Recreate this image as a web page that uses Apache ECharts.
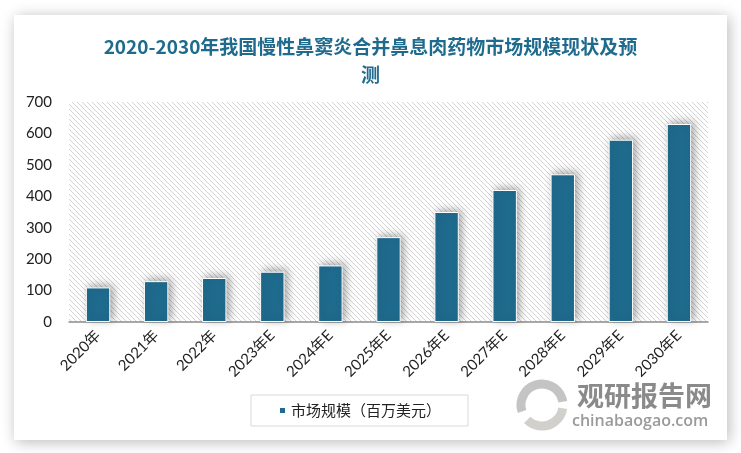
<!DOCTYPE html>
<html><head><meta charset="utf-8">
<script src="https://cdn.jsdelivr.net/npm/echarts@6/dist/echarts.min.js"></script>
<style>html,body{margin:0;padding:0;background:#fff;}#c{width:741px;height:453px;}</style>
</head><body><div id="c"></div>
<script>
const categories = ['2020年','2021年','2022年','2023年E','2024年E','2025年E','2026年E','2027年E','2028年E','2029年E','2030年E'];
const marketSize = [110, 130, 140, 160, 180, 270, 350, 420, 470, 580, 630];
const seriesName = '市场规模（百万美元）';
const titleText = '2020-2030年我国慢性鼻窦炎合并鼻息肉药物市场规模现状及预\n测';

const pc = document.createElement('canvas');
pc.width = 5; pc.height = 5;
const g = pc.getContext('2d');
g.fillStyle = '#ffffff'; g.fillRect(0,0,5,5);
g.strokeStyle = '#d3d3d3'; g.lineWidth = 1;
g.beginPath();
g.moveTo(-1,-1); g.lineTo(6,6);
g.moveTo(-1,4); g.lineTo(1,6);
g.moveTo(4,-1); g.lineTo(6,1);
g.stroke();

const chart = echarts.init(document.getElementById('c'));
chart.setOption({
  backgroundColor: '#ffffff',
  graphic: [
    { type: 'rect', z: -10, shape: { x: 14, y: 15, width: 713, height: 425 },
      style: { fill: '#fff', shadowBlur: 14, shadowColor: 'rgba(0,0,0,0.28)', shadowOffsetX: 2, shadowOffsetY: 2 } },
    { type: 'arc', shape: { cx: 542, cy: 405, r: 21, startAngle: Math.PI*0.9, endAngle: Math.PI*1.95 },
      style: { stroke: '#c4c4c4', lineWidth: 9, fill: null } },
    { type: 'arc', shape: { cx: 542, cy: 405, r: 21, startAngle: Math.PI*0.05, endAngle: Math.PI*0.75 },
      style: { stroke: '#d2d0cc', lineWidth: 9, fill: null } },
    { type: 'text', left: 577, top: 382,
      style: { text: '观研报告网', fill: '#8a8a8a', font: 'bold 27px "Noto Sans CJK SC"' } },
    { type: 'text', left: 572, top: 413,
      style: { text: 'chinabaogao.com', fill: '#9a9a9a', font: '600 16px "Open Sans"' } }
  ],
  title: {
    text: titleText, left: 'center', top: 28,
    textStyle: { color: '#1f6b8e', fontSize: 19, fontWeight: 'bold', fontFamily: '"Noto Sans CJK SC"', lineHeight: 28 }
  },
  legend: {
    left: 251, top: 395, padding: [8, 27, 8, 27],
    borderColor: '#d9d9d9', borderWidth: 1,
    itemWidth: 7, itemHeight: 7, itemGap: 5, icon: 'rect',
    textStyle: { fontSize: 15, color: '#222', fontFamily: '"Noto Sans CJK SC"' },
    data: [seriesName]
  },
  grid: {
    left: 69, right: 33, top: 102, bottom: 131, show: true, borderWidth: 0,
    backgroundColor: { image: pc, repeat: 'repeat' }
  },
  xAxis: {
    type: 'category', data: categories,
    axisLine: { lineStyle: { color: '#8c8c8c', width: 1.5 } },
    axisTick: { show: false },
    axisLabel: { rotate: 45, fontSize: 15, color: '#222', margin: 11, interval: 0, fontFamily: 'Lato, "Noto Sans CJK SC"' }
  },
  yAxis: {
    type: 'value', min: 0, max: 700, interval: 100,
    splitLine: { show: false }, axisLine: { show: false }, axisTick: { show: false },
    axisLabel: { fontSize: 15, color: '#222', margin: 17, fontFamily: 'Lato, "Noto Sans"' }
  },
  series: [{
    name: seriesName, type: 'bar', data: marketSize, barWidth: '42%',
    itemStyle: { color: '#1f6b8e', borderColor: '#ffffff', borderWidth: 1,
      shadowBlur: 8, shadowColor: 'rgba(0,0,0,0.35)', shadowOffsetX: 3, shadowOffsetY: -2 }
  }]
});
</script></body></html>
